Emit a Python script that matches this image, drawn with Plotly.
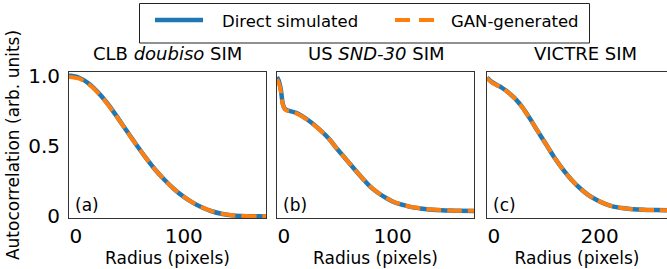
import plotly.graph_objects as go

W, H = 667, 269

# ---------------- data ----------------
r_a = [0, 10, 20, 30, 40, 50, 60, 70, 80, 90, 100, 110, 120, 130, 140, 150, 160, 170, 180, 190, 200, 207]
a_direct = [1.000, 0.986, 0.947, 0.884, 0.805, 0.712, 0.613, 0.516, 0.423, 0.337, 0.262, 0.197,
            0.142, 0.098, 0.063, 0.037, 0.019, 0.009, 0.004, 0.002, 0.001, 0.000]
a_gan = [0.990, 0.979, 0.942, 0.880, 0.802, 0.710, 0.612, 0.515, 0.422, 0.337, 0.262, 0.197,
         0.143, 0.099, 0.064, 0.038, 0.020, 0.010, 0.005, 0.002, 0.001, 0.000]

r_b = [0, 2, 4, 6, 8, 10, 20, 27, 35, 45, 55, 62, 70, 80, 90, 97, 105, 114, 122, 132, 140, 149,
       158, 166, 180, 190, 205]
b_direct = [0.990, 0.960, 0.900, 0.800, 0.765, 0.755, 0.735, 0.708, 0.670, 0.613, 0.545, 0.484,
            0.420, 0.340, 0.262, 0.211, 0.168, 0.129, 0.101, 0.080, 0.066, 0.057, 0.050, 0.046,
            0.042, 0.040, 0.039]
b_gan = [0.975, 0.945, 0.885, 0.795, 0.762, 0.752, 0.732, 0.706, 0.668, 0.612, 0.544, 0.484,
         0.420, 0.340, 0.263, 0.212, 0.169, 0.130, 0.102, 0.081, 0.067, 0.058, 0.051, 0.047,
         0.043, 0.041, 0.040]

r_c = [0, 10, 20, 30, 40, 50, 60, 75, 92, 110, 128, 146, 164, 182, 200, 218, 236, 254, 272,
       290, 308, 326, 344, 365, 387]
c_direct = [0.985, 0.955, 0.935, 0.918, 0.895, 0.868, 0.838, 0.779, 0.696, 0.600, 0.507, 0.413,
            0.330, 0.259, 0.200, 0.152, 0.117, 0.089, 0.070, 0.060, 0.053, 0.049, 0.046, 0.045,
            0.044]
c_gan = [0.980, 0.952, 0.933, 0.917, 0.894, 0.867, 0.837, 0.778, 0.695, 0.600, 0.507, 0.413,
         0.330, 0.259, 0.200, 0.152, 0.117, 0.089, 0.070, 0.060, 0.053, 0.049, 0.046, 0.045,
         0.044]

panel_titles = ["CLB <i>doubiso</i> SIM", "US <i>SND-30</i> SIM", "VICTRE SIM"]
panel_tags = ["(a)", "(b)", "(c)"]
series_names = ["Direct simulated", "GAN-generated"]
x_ranges = [[0, 207], [0, 205], [0, 387]]
x_tickvals = [[0, 100], [0, 100], [0, 200]]
x_ticktext = [["0", "100"], ["0", "100"], ["0", "200"]]
y_tickvals = [0, 0.5, 1.0]
y_ticktext = ["0", "0.5", "1.0"]
x_title = "Radius (pixels)"
y_title = "Autocorrelation (arb. units)"

# ---------------- style ----------------
FONT = "DejaVu Sans"
BLUE = "#1f77b4"
ORANGE = "#ff7f0e"
FRAME = "#333333"
DASH = "15px,6px"

def px_x(x):
    return x / W

def px_y(y):
    return 1 - y / H

x_domains = [[px_x(69), px_x(266)], [px_x(277), px_x(474)], [px_x(487), 1.0]]
y_domain = [px_y(218), px_y(72)]

fig = go.Figure()
series = [(r_a, a_direct, a_gan), (r_b, b_direct, b_gan), (r_c, c_direct, c_gan)]
for i, (r, d, g) in enumerate(series):
    xa = "x" if i == 0 else f"x{i+1}"
    ya = "y" if i == 0 else f"y{i+1}"
    fig.add_trace(go.Scatter(x=r, y=d, mode="lines", name=series_names[0], xaxis=xa, yaxis=ya,
                             line=dict(color=BLUE, width=4.5, shape="spline", smoothing=0.8),
                             showlegend=False))
    fig.add_trace(go.Scatter(x=r, y=g, mode="lines", name=series_names[1], xaxis=xa, yaxis=ya,
                             line=dict(color=ORANGE, width=4, dash=DASH, shape="spline", smoothing=0.8),
                             showlegend=False))

layout = dict(
    width=W, height=H,
    margin=dict(l=0, r=0, t=0, b=0, autoexpand=False),
    paper_bgcolor="white", plot_bgcolor="white",
    font=dict(family=FONT, color="black"),
    showlegend=False,
)

for i in range(3):
    xk = "xaxis" if i == 0 else f"xaxis{i+1}"
    yk = "yaxis" if i == 0 else f"yaxis{i+1}"
    ya = "y" if i == 0 else f"y{i+1}"
    xa = "x" if i == 0 else f"x{i+1}"
    layout[xk] = dict(
        domain=x_domains[i], anchor=ya, range=x_ranges[i], automargin=False,
        tickvals=x_tickvals[i], ticktext=x_ticktext[i], ticks="",
        ticklabelposition="outside right",
        tickfont=dict(size=20, family=FONT, color="black"),
        showgrid=False, zeroline=False,
        showline=True, linecolor=FRAME, linewidth=1, mirror=True,
        title=dict(text=x_title, font=dict(size=17, family=FONT, color="black"), standoff=0),
    )
    layout[yk] = dict(
        domain=y_domain, anchor=xa, range=[-0.011, 1.025], automargin=False,
        tickvals=y_tickvals, ticktext=y_ticktext, ticks="",
        showticklabels=(i == 0),
        tickfont=dict(size=20, family=FONT, color="black"),
        showgrid=False, zeroline=False,
        showline=True, linecolor=FRAME, linewidth=1, mirror=(i < 2),
        ticklabelstandoff=4,
    )
    if i == 0:
        layout[yk]["title"] = dict(text=y_title, font=dict(size=17, family=FONT, color="black"), standoff=4)

annotations = []
for i in range(3):
    xa = "x" if i == 0 else f"x{i+1}"
    ya = "y" if i == 0 else f"y{i+1}"
    cx = (x_domains[i][0] + (px_x(684) if i == 2 else x_domains[i][1])) / 2
    annotations.append(dict(text=panel_titles[i], xref="paper", yref="paper",
                            x=cx, y=px_y(54), xanchor="center", yanchor="middle",
                            showarrow=False, font=dict(size=18, family=FONT, color="black")))
    annotations.append(dict(text=panel_tags[i], xref=f"{xa} domain", yref=f"{ya} domain",
                            x=0.02, y=0.089, xanchor="left", yanchor="middle",
                            showarrow=False, font=dict(size=17, family=FONT, color="black")))

# legend (drawn by hand for matplotlib-like look)
annotations.append(dict(text=series_names[0], xref="paper", yref="paper", x=px_x(220), y=px_y(21),
                        xanchor="left", yanchor="middle", showarrow=False,
                        font=dict(size=16.5, family=FONT, color="black")))
annotations.append(dict(text=series_names[1], xref="paper", yref="paper", x=px_x(449), y=px_y(21),
                        xanchor="left", yanchor="middle", showarrow=False,
                        font=dict(size=16.5, family=FONT, color="black")))
layout["annotations"] = annotations

layout["shapes"] = [
    dict(type="rect", xref="paper", yref="paper", x0=px_x(139.5), x1=px_x(589.5),
         y0=px_y(43), y1=px_y(3.5), line=dict(color="#222222", width=1), fillcolor="white"),
    dict(type="line", xref="paper", yref="paper", x0=px_x(155), x1=px_x(203),
         y0=px_y(20), y1=px_y(20), line=dict(color=BLUE, width=4.5)),
    dict(type="line", xref="paper", yref="paper", x0=px_x(395), x1=px_x(434),
         y0=px_y(20), y1=px_y(20), line=dict(color=ORANGE, width=4, dash="15px,9px")),
]

fig.update_layout(**layout)
fig.write_html("out.html", config={"displayModeBar": False},
               post_script="document.body.style.margin='0px';document.body.style.overflow='hidden';")
